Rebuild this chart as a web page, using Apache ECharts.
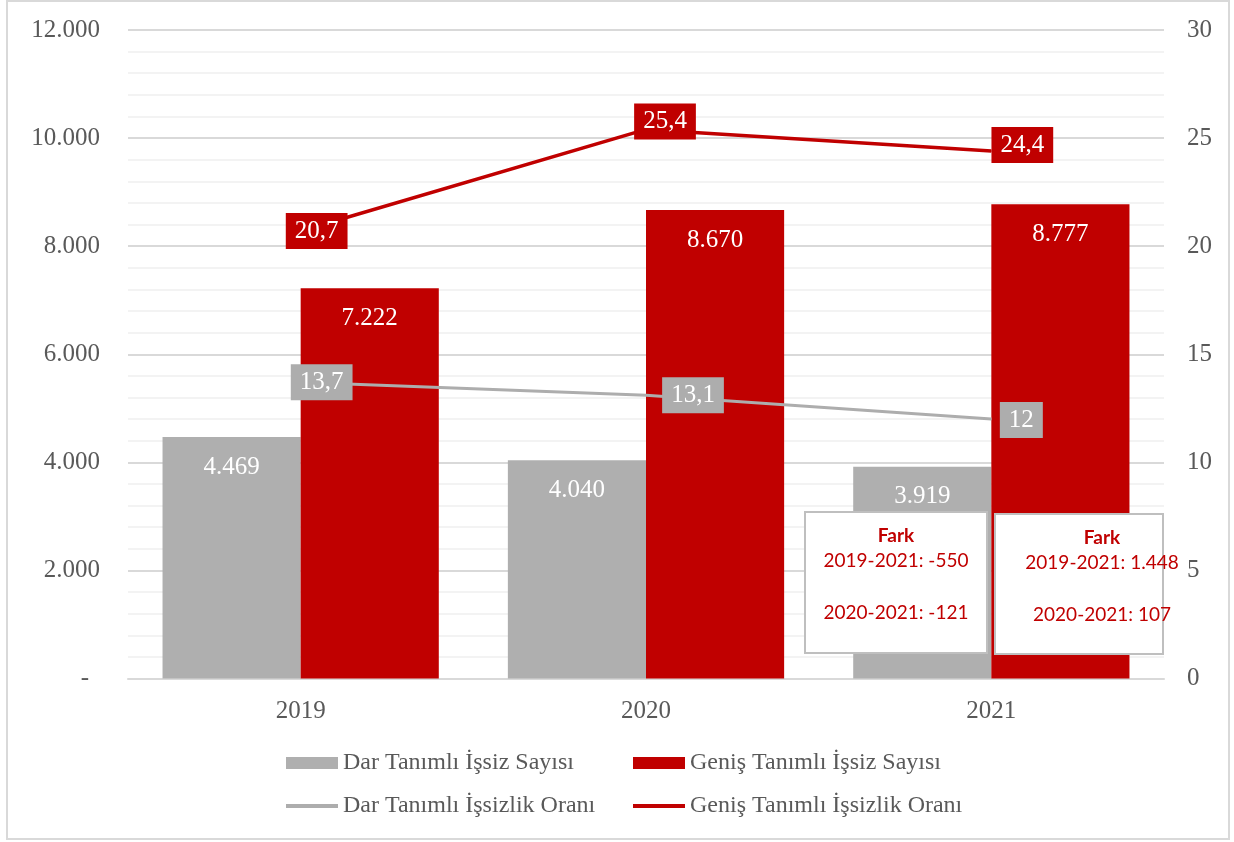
<!DOCTYPE html>
<html>
<head>
<meta charset="utf-8">
<script src="https://cdn.jsdelivr.net/npm/echarts@6/dist/echarts.min.js"></script>
<style>
  html, body { margin: 0; padding: 0; background: #fff; }
  #chart { width: 1234px; height: 842px; }
</style>
</head>
<body>
<div id="chart"></div>
<script>
// veriler
var years = ["2019", "2020", "2021"];
var darSayi = [4469, 4040, 3919];
var genisSayi = [7222, 8670, 8777];
var darOran = [13.7, 13.1, 12];
var genisOran = [20.7, 25.4, 24.4];
var farkDar = ["2019-2021: -550", "2020-2021: -121"];
var farkGenis = ["2019-2021: 1.448", "2020-2021: 107"];

var GRAY = "#afafaf";
var LGRAY = "#adadad";
var RED = "#c00000";
var TXT = "#595959";
var SERIF = "Liberation Serif";

// etiket kaydırmaları (Excel'deki elle yerleştirme)
var darShift = [[21, 0], [47, 0], [30, 1]];
var genisShift = [[16, 0], [19, -8], [31, -6]];

function binlik(v) {
  return String(v).replace(/\B(?=(\d{3})+(?!\d))/g, ".");
}
function ondalik(v) {
  return String(v).replace(".", ",");
}

function rateData(vals, shifts) {
  return vals.map(function (v, i) {
    return { value: v, label: { offset: shifts[i] } };
  });
}

function farkBox(x, y, w, h, cx, lines) {
  var txt = function (s, ty, bold) {
    return {
      type: "text", z: 101,
      x: cx, y: y + ty,
      style: {
        text: s, font: (bold ? "bold " : "") + "19px Lato", fill: RED,
        align: "center", verticalAlign: "middle"
      }
    };
  };
  return [
    {
      type: "rect", z: 100,
      shape: { x: x, y: y, width: w, height: h },
      style: { fill: "#fff", stroke: "#bfbfbf", lineWidth: 2 }
    },
    txt("Fark", 24, true),
    txt(lines[0], 49, false),
    txt(lines[1], 101, false)
  ];
}

function legendItem(name, left, top, h) {
  return {
    left: left, top: top,
    itemWidth: 52, itemHeight: h,
    icon: "rect",
    textStyle: { fontFamily: SERIF, fontSize: 24, color: TXT, lineHeight: 30 },
    data: [name]
  };
}

var myChart = echarts.init(document.getElementById("chart"));
var option = {
  animation: false,
  textStyle: { fontFamily: SERIF },
  grid: { left: 128, right: 70, top: 30, bottom: 163.5 },
  legend: [
    legendItem("Dar Tanımlı İşsiz Sayısı", 281, 743, 12),
    legendItem("Geniş Tanımlı İşsiz Sayısı", 628, 743, 12),
    legendItem("Dar Tanımlı İşsizlik Oranı", 281, 786, 4),
    legendItem("Geniş Tanımlı İşsizlik Oranı", 628, 786, 4)
  ],
  xAxis: {
    type: "category",
    data: years,
    axisTick: { show: false },
    axisLine: { lineStyle: { color: "#d9d9d9", width: 2 } },
    axisLabel: { fontFamily: SERIF, fontSize: 25, color: TXT, margin: 20 }
  },
  yAxis: [
    {
      type: "value",
      min: 0, max: 12000, interval: 2000,
      axisLine: { show: false },
      axisTick: { show: false },
      splitLine: { lineStyle: { color: "#d9d9d9", width: 2 } },
      minorTick: { show: false, splitNumber: 5 },
      minorSplitLine: { show: true, lineStyle: { color: "#efefef", width: 1.5 } },
      axisLabel: {
        fontFamily: SERIF, fontSize: 25, color: TXT, margin: 28,
        formatter: function (v) { return v === 0 ? "{d|-}" : binlik(v); },
        rich: { d: { fontFamily: SERIF, fontSize: 25, color: TXT, padding: [0, 11, 0, 0] } }
      }
    },
    {
      type: "value",
      min: 0, max: 30, interval: 5,
      axisLine: { show: false },
      axisTick: { show: false },
      splitLine: { show: false },
      axisLabel: { fontFamily: SERIF, fontSize: 25, color: TXT, margin: 23 }
    }
  ],
  series: [
    {
      name: "Dar Tanımlı İşsiz Sayısı",
      type: "bar",
      data: darSayi,
      barGap: "0%",
      barCategoryGap: "20%",
      itemStyle: { color: GRAY },
      label: {
        show: true, position: "insideTop", distance: 15,
        fontFamily: SERIF, fontSize: 25, lineHeight: 30, color: "#fff",
        formatter: function (p) { return binlik(p.value); }
      }
    },
    {
      name: "Geniş Tanımlı İşsiz Sayısı",
      type: "bar",
      data: genisSayi,
      itemStyle: { color: RED },
      label: {
        show: true, position: "insideTop", distance: 15,
        fontFamily: SERIF, fontSize: 25, lineHeight: 30, color: "#fff",
        formatter: function (p) { return binlik(p.value); }
      }
    },
    {
      name: "Dar Tanımlı İşsizlik Oranı",
      type: "line",
      yAxisIndex: 1,
      data: rateData(darOran, darShift),
      symbol: "circle",
      symbolSize: 1,
      lineStyle: { color: LGRAY, width: 3 },
      itemStyle: { color: LGRAY },
      label: {
        show: true, position: "inside",
        fontFamily: SERIF, fontSize: 25, lineHeight: 30, color: "#fff",
        backgroundColor: LGRAY, padding: [3, 9],
        formatter: function (p) { return ondalik(p.value); }
      }
    },
    {
      name: "Geniş Tanımlı İşsizlik Oranı",
      type: "line",
      yAxisIndex: 1,
      data: rateData(genisOran, genisShift),
      symbol: "circle",
      symbolSize: 1,
      lineStyle: { color: RED, width: 3.5 },
      itemStyle: { color: RED },
      label: {
        show: true, position: "inside",
        fontFamily: SERIF, fontSize: 25, lineHeight: 30, color: "#fff",
        backgroundColor: RED, padding: [3, 9],
        formatter: function (p) { return ondalik(p.value); }
      }
    }
  ],
  graphic: [
    {
      type: "rect",
      z: 0,
      shape: { x: 7, y: 1, width: 1222, height: 838 },
      style: { fill: "none", stroke: "#d9d9d9", lineWidth: 2 }
    }
  ].concat(
    farkBox(805, 512, 182, 141, 896, farkDar),
    farkBox(995, 514, 168, 140, 1102, farkGenis)
  )
};

myChart.setOption(option);
</script>
</body>
</html>
